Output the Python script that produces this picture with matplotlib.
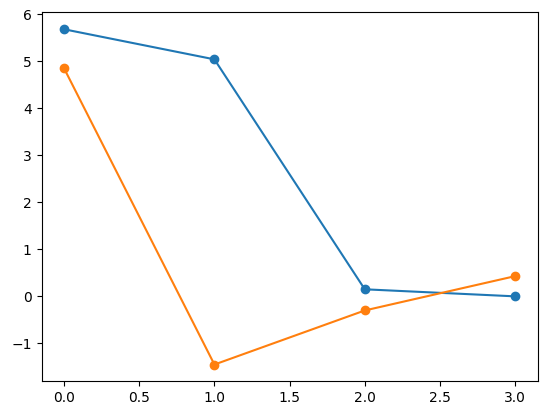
import matplotlib
matplotlib.use("Agg")
import matplotlib.pyplot as plt

x = [0, 1, 2, 3]
blue_vals = [5.68, 5.04, 0.15, 0.0]
orange_vals = [4.85, -1.45, -0.30, 0.43]

fig = plt.figure(figsize=(5.46, 4.15), dpi=100)
ax = fig.add_axes([41.5 / 546, 1 - 381.3 / 415, 496.2 / 546, 368.8 / 415])
ax.plot(x, blue_vals, marker="o")
ax.plot(x, orange_vals, marker="o")

fig.savefig("out.png")
